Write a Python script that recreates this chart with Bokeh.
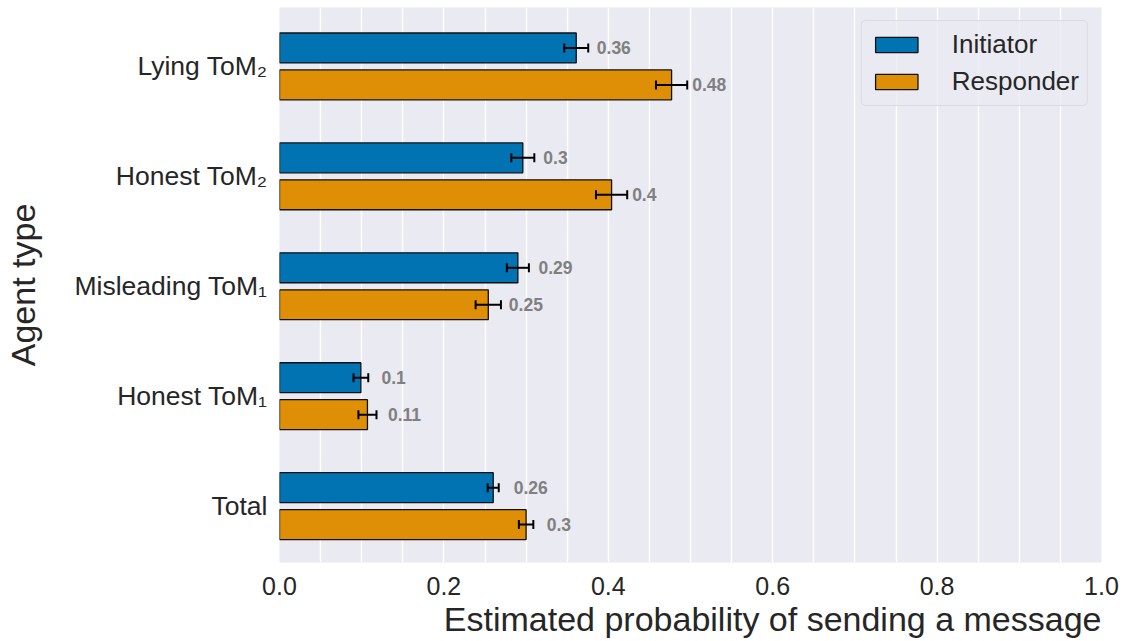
from bokeh.plotting import figure
from bokeh.models import (ColumnDataSource, Range1d, FixedTicker, Whisker, TeeHead,
                          Title, Legend)
from bokeh.core.properties import value
from bokeh.embed import file_html
from bokeh.resources import INLINE
import numpy as np

# Agent types, bottom to top
categories = ["Total", "Honest ToM\u2081", "Misleading ToM\u2081", "Honest ToM\u2082", "Lying ToM\u2082"]

# Estimated probability of sending a message, with standard errors
initiator = [0.260, 0.099, 0.290, 0.296, 0.361]
initiator_err = [0.0067, 0.009, 0.0134, 0.014, 0.0146]
responder = [0.300, 0.107, 0.254, 0.404, 0.477]
responder_err = [0.0088, 0.011, 0.0154, 0.019, 0.019]

x_ticks = [0.0, 0.2, 0.4, 0.6, 0.8, 1.0]

FONT = "Liberation Sans"
TEXT = "#262626"
BLUE = "#0173B2"
ORANGE = "#DE8F05"
OFFSET = 0.168
BAR_H = 0.272

idx = np.arange(len(categories))


def series_source(vals, errs, shift):
    return ColumnDataSource(dict(
        y=idx + shift,
        v=vals,
        lo=[v - e for v, e in zip(vals, errs)],
        hi=[v + e for v, e in zip(vals, errs)],
        lx=[v + 0.025 for v in vals],
        label=[str(round(v, 2)) for v in vals],
    ))


src_init = series_source(initiator, initiator_err, OFFSET)
src_resp = series_source(responder, responder_err, -OFFSET)

p = figure(width=1126, height=641,
           x_range=Range1d(0, 1), y_range=Range1d(-0.513, 4.536),
           output_backend="svg", toolbar_location=None,
           min_border_left=279, min_border_right=25,
           min_border_top=7, min_border_bottom=79,
           background_fill_color="#EAEAF2", border_fill_color="white",
           outline_line_color=None)

r_init = p.hbar(y="y", left=0, right="v", height=BAR_H, source=src_init,
                fill_color=BLUE, line_color="#111111", line_width=1.3)
r_resp = p.hbar(y="y", left=0, right="v", height=BAR_H, source=src_resp,
                fill_color=ORANGE, line_color="#111111", line_width=1.3)

for src in (src_init, src_resp):
    p.add_layout(Whisker(source=src, base="y", lower="lo", upper="hi",
                         dimension="width", level="overlay",
                         line_color="black", line_width=2,
                         lower_head=TeeHead(size=9, line_color="black", line_width=2),
                         upper_head=TeeHead(size=9, line_color="black", line_width=2)))
    p.text(x="lx", y="y", text="label", source=src,
           text_font=value(FONT), text_font_size="17.5px", text_font_style="bold",
           text_color="#808080", text_baseline="middle", text_align="left")

# grid: white lines every 0.05 along x, none along y
p.xgrid.ticker = FixedTicker(ticks=list(np.round(np.arange(0, 1.0001, 0.05), 2)))
p.xgrid.grid_line_color = "white"
p.xgrid.grid_line_width = 1.4
p.ygrid.grid_line_color = None

# x axis
p.xaxis.ticker = FixedTicker(ticks=x_ticks)
p.xaxis.major_label_overrides = {t: f"{t:.1f}" for t in x_ticks}
p.xaxis.major_label_text_font = FONT
p.xaxis.major_label_text_font_size = "25px"
p.xaxis.major_label_text_color = TEXT
p.xaxis.major_label_standoff = 8
p.xaxis.axis_line_color = None
p.xaxis.major_tick_line_color = None
p.xaxis.minor_tick_line_color = None

# y axis
p.yaxis.ticker = FixedTicker(ticks=list(idx))
p.yaxis.major_label_overrides = {int(i): c for i, c in zip(idx, categories)}
p.yaxis.major_label_text_font = FONT
p.yaxis.major_label_text_font_size = "26.5px"
p.yaxis.major_label_text_color = TEXT
p.yaxis.major_label_standoff = 6
p.yaxis.axis_line_color = None
p.yaxis.major_tick_line_color = None
p.yaxis.minor_tick_line_color = None
p.yaxis.axis_label = "Agent type"
p.yaxis.axis_label_text_font = FONT
p.yaxis.axis_label_text_font_size = "34px"
p.yaxis.axis_label_text_font_style = "normal"
p.yaxis.axis_label_text_color = TEXT
p.yaxis.axis_label_standoff = 29

# x axis label, right-aligned under the frame
p.add_layout(Title(text="Estimated probability of sending a message", align="right",
                   text_font=FONT, text_font_size="34px", text_font_style="normal",
                   text_color=TEXT, standoff=0), "below")

legend = Legend(items=[("Initiator", [r_init]), ("Responder", [r_resp])],
                location="top_right")
legend.margin = 13
legend.padding = 8
legend.spacing = 6
legend.glyph_width = 53
legend.glyph_height = 19
legend.label_standoff = 29
legend.label_text_font = FONT
legend.label_text_font_size = "26px"
legend.label_text_color = TEXT
legend.border_line_color = "#cccccc"
legend.border_line_width = 1
legend.background_fill_color = "#EAEAF2"
legend.background_fill_alpha = 0.8
try:
    legend.border_radius = 5
except AttributeError:
    pass
p.add_layout(legend, "center")

open("out.html", "w").write(file_html(p, INLINE))
